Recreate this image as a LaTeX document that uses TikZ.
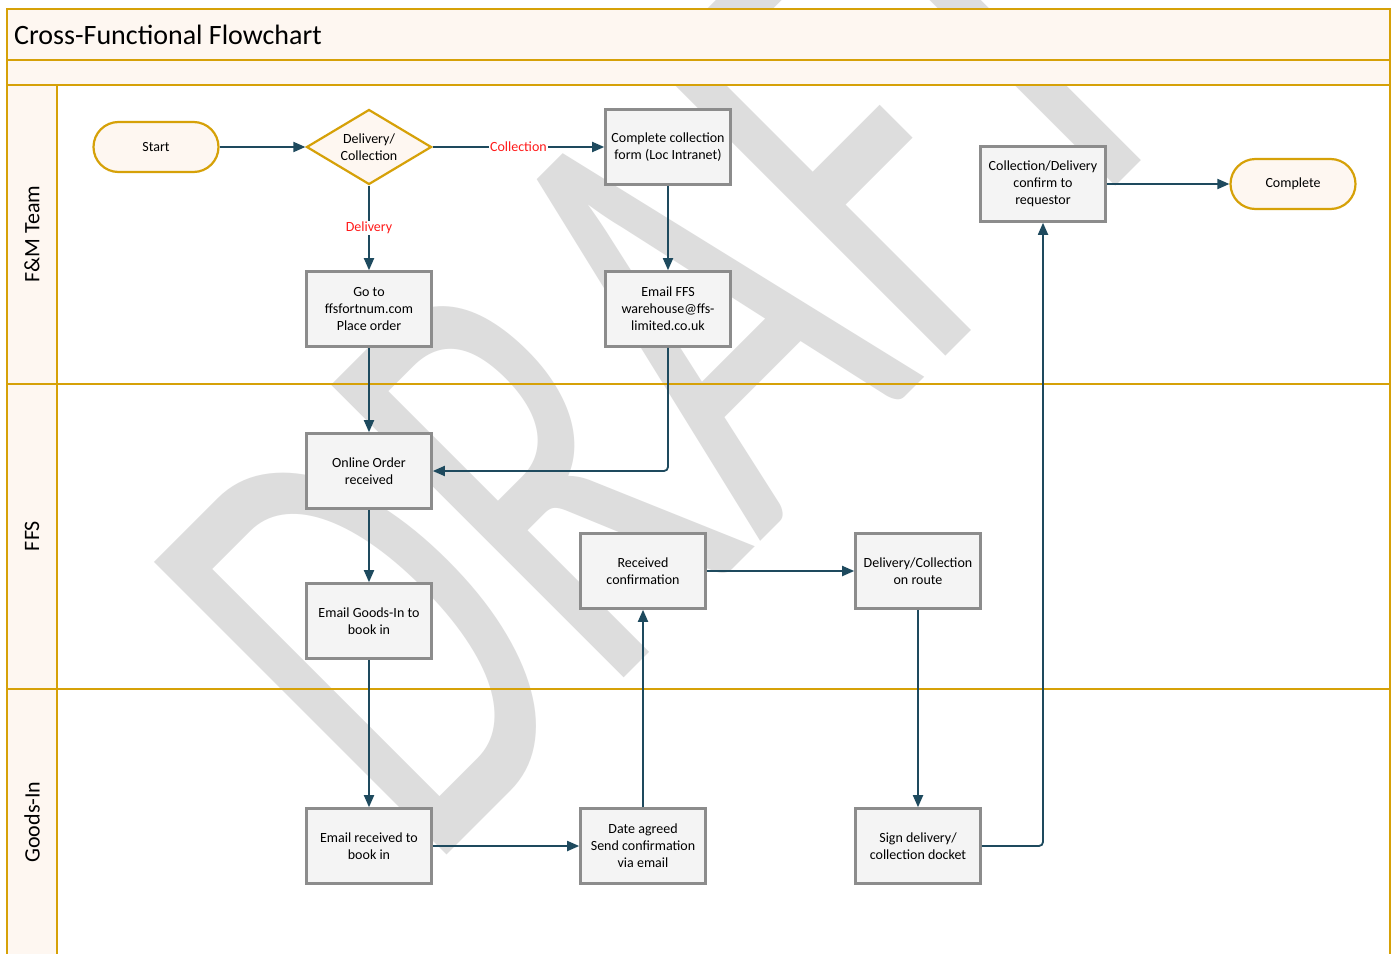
\documentclass[tikz,border=0pt]{standalone}
\usepackage{fontspec}
\setmainfont{Carlito}
\usetikzlibrary{arrows.meta,shapes.geometric}
\definecolor{gold}{HTML}{D6A108}
\definecolor{cream}{HTML}{FEF7F1}
\definecolor{wm}{HTML}{DDDDDD}
\definecolor{boxline}{HTML}{8C8C8C}
\definecolor{boxfill}{HTML}{F4F4F4}
\definecolor{conn}{HTML}{1E4A5E}
\definecolor{lblred}{HTML}{FF1A1A}
\tikzset{
  procbox/.style={draw=boxline, line width=2.6pt, fill=boxfill, minimum width=125pt, minimum height=75pt, inner sep=2pt, align=center, font=\fontsize{14}{17}\selectfont},
  termbox/.style={draw=gold, line width=2.2pt, fill=cream, rounded corners=25pt, minimum width=125pt, minimum height=50pt, align=center, font=\fontsize{14}{17}\selectfont},
  decbox/.style={diamond, draw=gold, line width=2.2pt, fill=cream, minimum width=125pt, minimum height=75pt, aspect=1.667, inner sep=0pt, align=center, font=\fontsize{14}{17}\selectfont},
  arr/.style={draw=conn, line width=1.8pt, -{Triangle[length=12pt,width=10pt]}},
  lbl/.style={fill=white, text=lblred, inner sep=1pt, font=\fontsize{14}{15}\selectfont},
  lanelbl/.style={rotate=90, font=\fontsize{22}{24}\selectfont},
  frameline/.style={draw=gold, line width=2.4pt}
}
\begin{document}
\begin{tikzpicture}[x=1pt,y=-1pt]
\useasboundingbox (0,0) rectangle (1394,953);
\fill[white] (0,0) rectangle (1394,953);
% watermark
\begin{scope}[shift={(427,875)}, rotate=45, xscale=0.63]
\node[transform shape, anchor=base west, inner sep=0pt, text=wm, font=\fontsize{645}{645}\selectfont] (wmark) at (0,0) {DRAFT};
\end{scope}
% pool fills
\fill[cream] (7,9) rectangle (1390,85);
\fill[cream] (7,85) rectangle (57,960);
% frame lines
\draw[frameline] (7,960) -- (7,9) -- (1390,9) -- (1390,960);
\draw[frameline] (7,60) -- (1390,60);
\draw[frameline] (7,85) -- (1390,85);
\draw[frameline] (7,384) -- (1390,384);
\draw[frameline] (7,689) -- (1390,689);
\draw[frameline] (57,85) -- (57,960);
% titles
\node[anchor=west, inner sep=0pt, font=\fontsize{28}{30}\selectfont] (title) at (14,35) {Cross-Functional Flowchart};
\node[lanelbl] (lane1) at (32,234) {F\&M Team};
\node[lanelbl] (lane2) at (32,536) {FFS};
\node[lanelbl] (lane3) at (32,822) {Goods-In};
% nodes
\node[termbox] (start) at (156,147) {Start};
\node[decbox] (dec) at (369,147) {Delivery/\\Collection};
\node[procbox] (ccf) at (668,147) {Complete collection\\form (Loc Intranet)};
\node[procbox] (goto) at (369,309) {Go to\\ffsfortnum.com\\Place order};
\node[procbox] (effs) at (668,309) {Email FFS\\warehouse@ffs-\\limited.co.uk};
\node[procbox] (cdc) at (1043,184) {Collection/Delivery\\confirm to\\requestor};
\node[termbox] (complete) at (1293,184) {Complete};
\node[procbox] (oor) at (369,471) {Online Order\\received};
\node[procbox] (egi) at (369,621) {Email Goods-In to\\book in};
\node[procbox] (rc) at (643,571) {Received\\confirmation};
\node[procbox] (route) at (918,571) {Delivery/Collection\\on route};
\node[procbox] (erb) at (369,846) {Email received to\\book in};
\node[procbox] (date) at (643,846) {Date agreed\\Send confirmation\\via email};
\node[procbox] (sign) at (918,846) {Sign delivery/\\collection docket};
% connectors
\draw[arr] (start) -- (dec);
\draw[arr] (dec) -- node[lbl] {Collection} (ccf);
\draw[arr] (dec) -- node[lbl] {Delivery} (goto);
\draw[arr] (ccf) -- (effs);
\draw[arr] (goto) -- (oor);
\draw[arr, rounded corners=4pt] (effs.south) |- (oor.east);
\draw[arr] (oor) -- (egi);
\draw[arr] (egi) -- (erb);
\draw[arr] (erb) -- (date);
\draw[arr] (date) -- (rc);
\draw[arr] (rc) -- (route);
\draw[arr] (route) -- (sign);
\draw[arr, rounded corners=4pt] (sign.east) -| (cdc.south);
\draw[arr] (cdc) -- (complete);
\end{tikzpicture}
\end{document}
